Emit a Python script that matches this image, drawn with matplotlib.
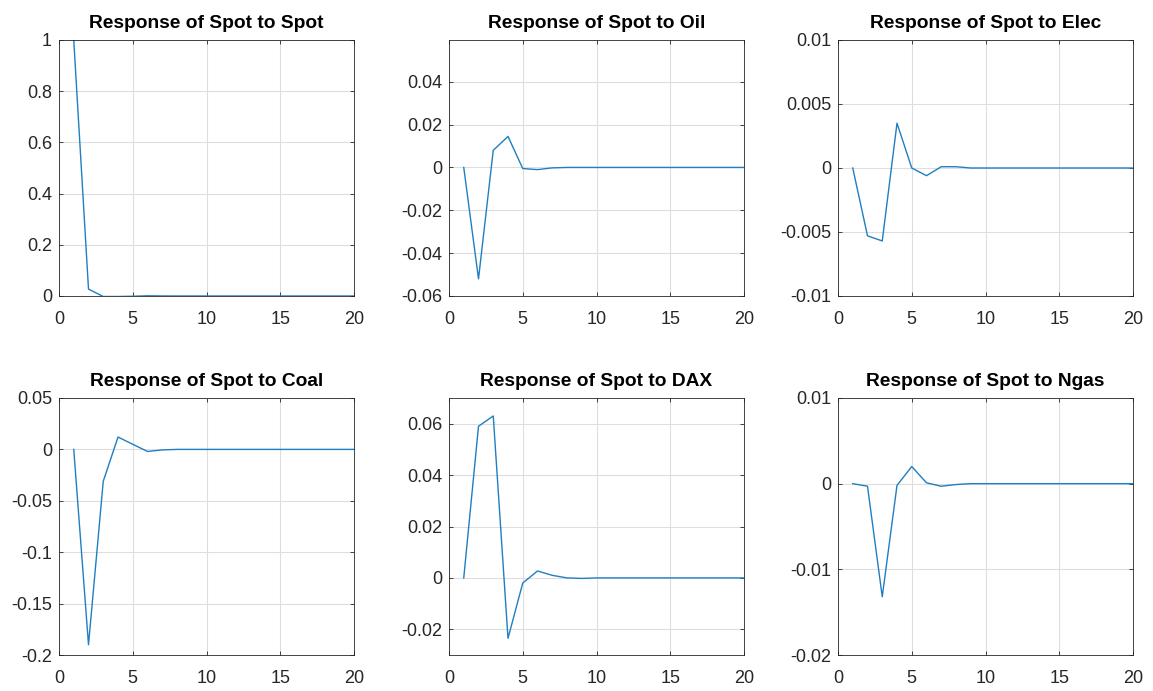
import matplotlib
matplotlib.use("Agg")
import matplotlib.pyplot as plt
import numpy as np

plt.rcParams['font.family'] = ['Liberation Sans', 'DejaVu Sans']

horizon = np.arange(1, 21)

spot = [1.0, 0.027, -0.002, -0.002, -0.001, 0.0008, 0.0002, 0.0, 0.0, 0.0,
        0.0, 0.0, 0.0, 0.0, 0.0, 0.0, 0.0, 0.0, 0.0, 0.0]
oil = [0.0, -0.052, 0.008, 0.0145, -0.0005, -0.001, -0.0002, 0.0, 0.0, 0.0,
       0.0, 0.0, 0.0, 0.0, 0.0, 0.0, 0.0, 0.0, 0.0, 0.0]
elec = [0.0, -0.0053, -0.0057, 0.0035, 0.0, -0.0006, 0.0001, 0.0001, 0.0, 0.0,
        0.0, 0.0, 0.0, 0.0, 0.0, 0.0, 0.0, 0.0, 0.0, 0.0]
coal = [0.0, -0.19, -0.031, 0.012, 0.005, -0.002, -0.0005, 0.0, 0.0, 0.0,
        0.0, 0.0, 0.0, 0.0, 0.0, 0.0, 0.0, 0.0, 0.0, 0.0]
dax = [0.0, 0.059, 0.063, -0.0235, -0.002, 0.0027, 0.001, 0.0, -0.0002, 0.0,
       0.0, 0.0, 0.0, 0.0, 0.0, 0.0, 0.0, 0.0, 0.0, 0.0]
ngas = [0.0, -0.0003, -0.0132, -0.0002, 0.002, 0.0001, -0.0003, -0.0001, 0.0, 0.0,
        0.0, 0.0, 0.0, 0.0, 0.0, 0.0, 0.0, 0.0, 0.0, 0.0]

names = ["Spot", "Oil", "Elec", "Coal", "DAX", "Ngas"]
series = [spot, oil, elec, coal, dax, ngas]
ylims = [(0, 1), (-0.06, 0.0595), (-0.01, 0.01), (-0.2, 0.05), (-0.03, 0.07), (-0.02, 0.01)]
yticks = [
    [0, 0.2, 0.4, 0.6, 0.8, 1],
    [-0.06, -0.04, -0.02, 0, 0.02, 0.04],
    [-0.01, -0.005, 0, 0.005, 0.01],
    [-0.2, -0.15, -0.1, -0.05, 0, 0.05],
    [-0.02, 0, 0.02, 0.04, 0.06],
    [-0.02, -0.01, 0, 0.01],
]
ylabels = [
    ["0", "0.2", "0.4", "0.6", "0.8", "1"],
    ["-0.06", "-0.04", "-0.02", "0", "0.02", "0.04"],
    ["-0.01", "-0.005", "0", "0.005", "0.01"],
    ["-0.2", "-0.15", "-0.1", "-0.05", "0", "0.05"],
    ["-0.02", "0", "0.02", "0.04", "0.06"],
    ["-0.02", "-0.01", "0", "0.01"],
]

W, H = 1153, 691
lefts = [59, 449, 838]
width = 295
rows = [(40, 296), (398, 655)]

fig = plt.figure(figsize=(W / 100, H / 100), dpi=100)

for k in range(6):
    r, c = divmod(k, 3)
    top, bot = rows[r]
    ax = fig.add_axes([lefts[c] / W, 1 - bot / H, width / W, (bot - top) / H])
    ax.plot(horizon, series[k], color="#1f7fc0", linewidth=1.0)
    ax.set_xlim(0, 20)
    ax.set_ylim(*ylims[k])
    ax.set_xticks([0, 5, 10, 15, 20])
    ax.set_yticks(yticks[k])
    ax.set_yticklabels(ylabels[k])
    ax.grid(True, color="#dedede", linewidth=0.8)
    ax.set_axisbelow(True)
    ax.tick_params(direction="in", length=3, width=0.6, colors="#262626",
                   labelsize=13, top=True, right=True)
    ax.tick_params(axis="x", pad=11)
    ax.tick_params(axis="y", pad=5)
    for sp in ax.spines.values():
        sp.set_color("#262626")
        sp.set_linewidth(0.6)
    ax.set_title("Response of Spot to " + names[k], fontsize=13.8, fontweight="bold",
                 pad=8.5)

fig.savefig("out.png", dpi=100, facecolor="white")
